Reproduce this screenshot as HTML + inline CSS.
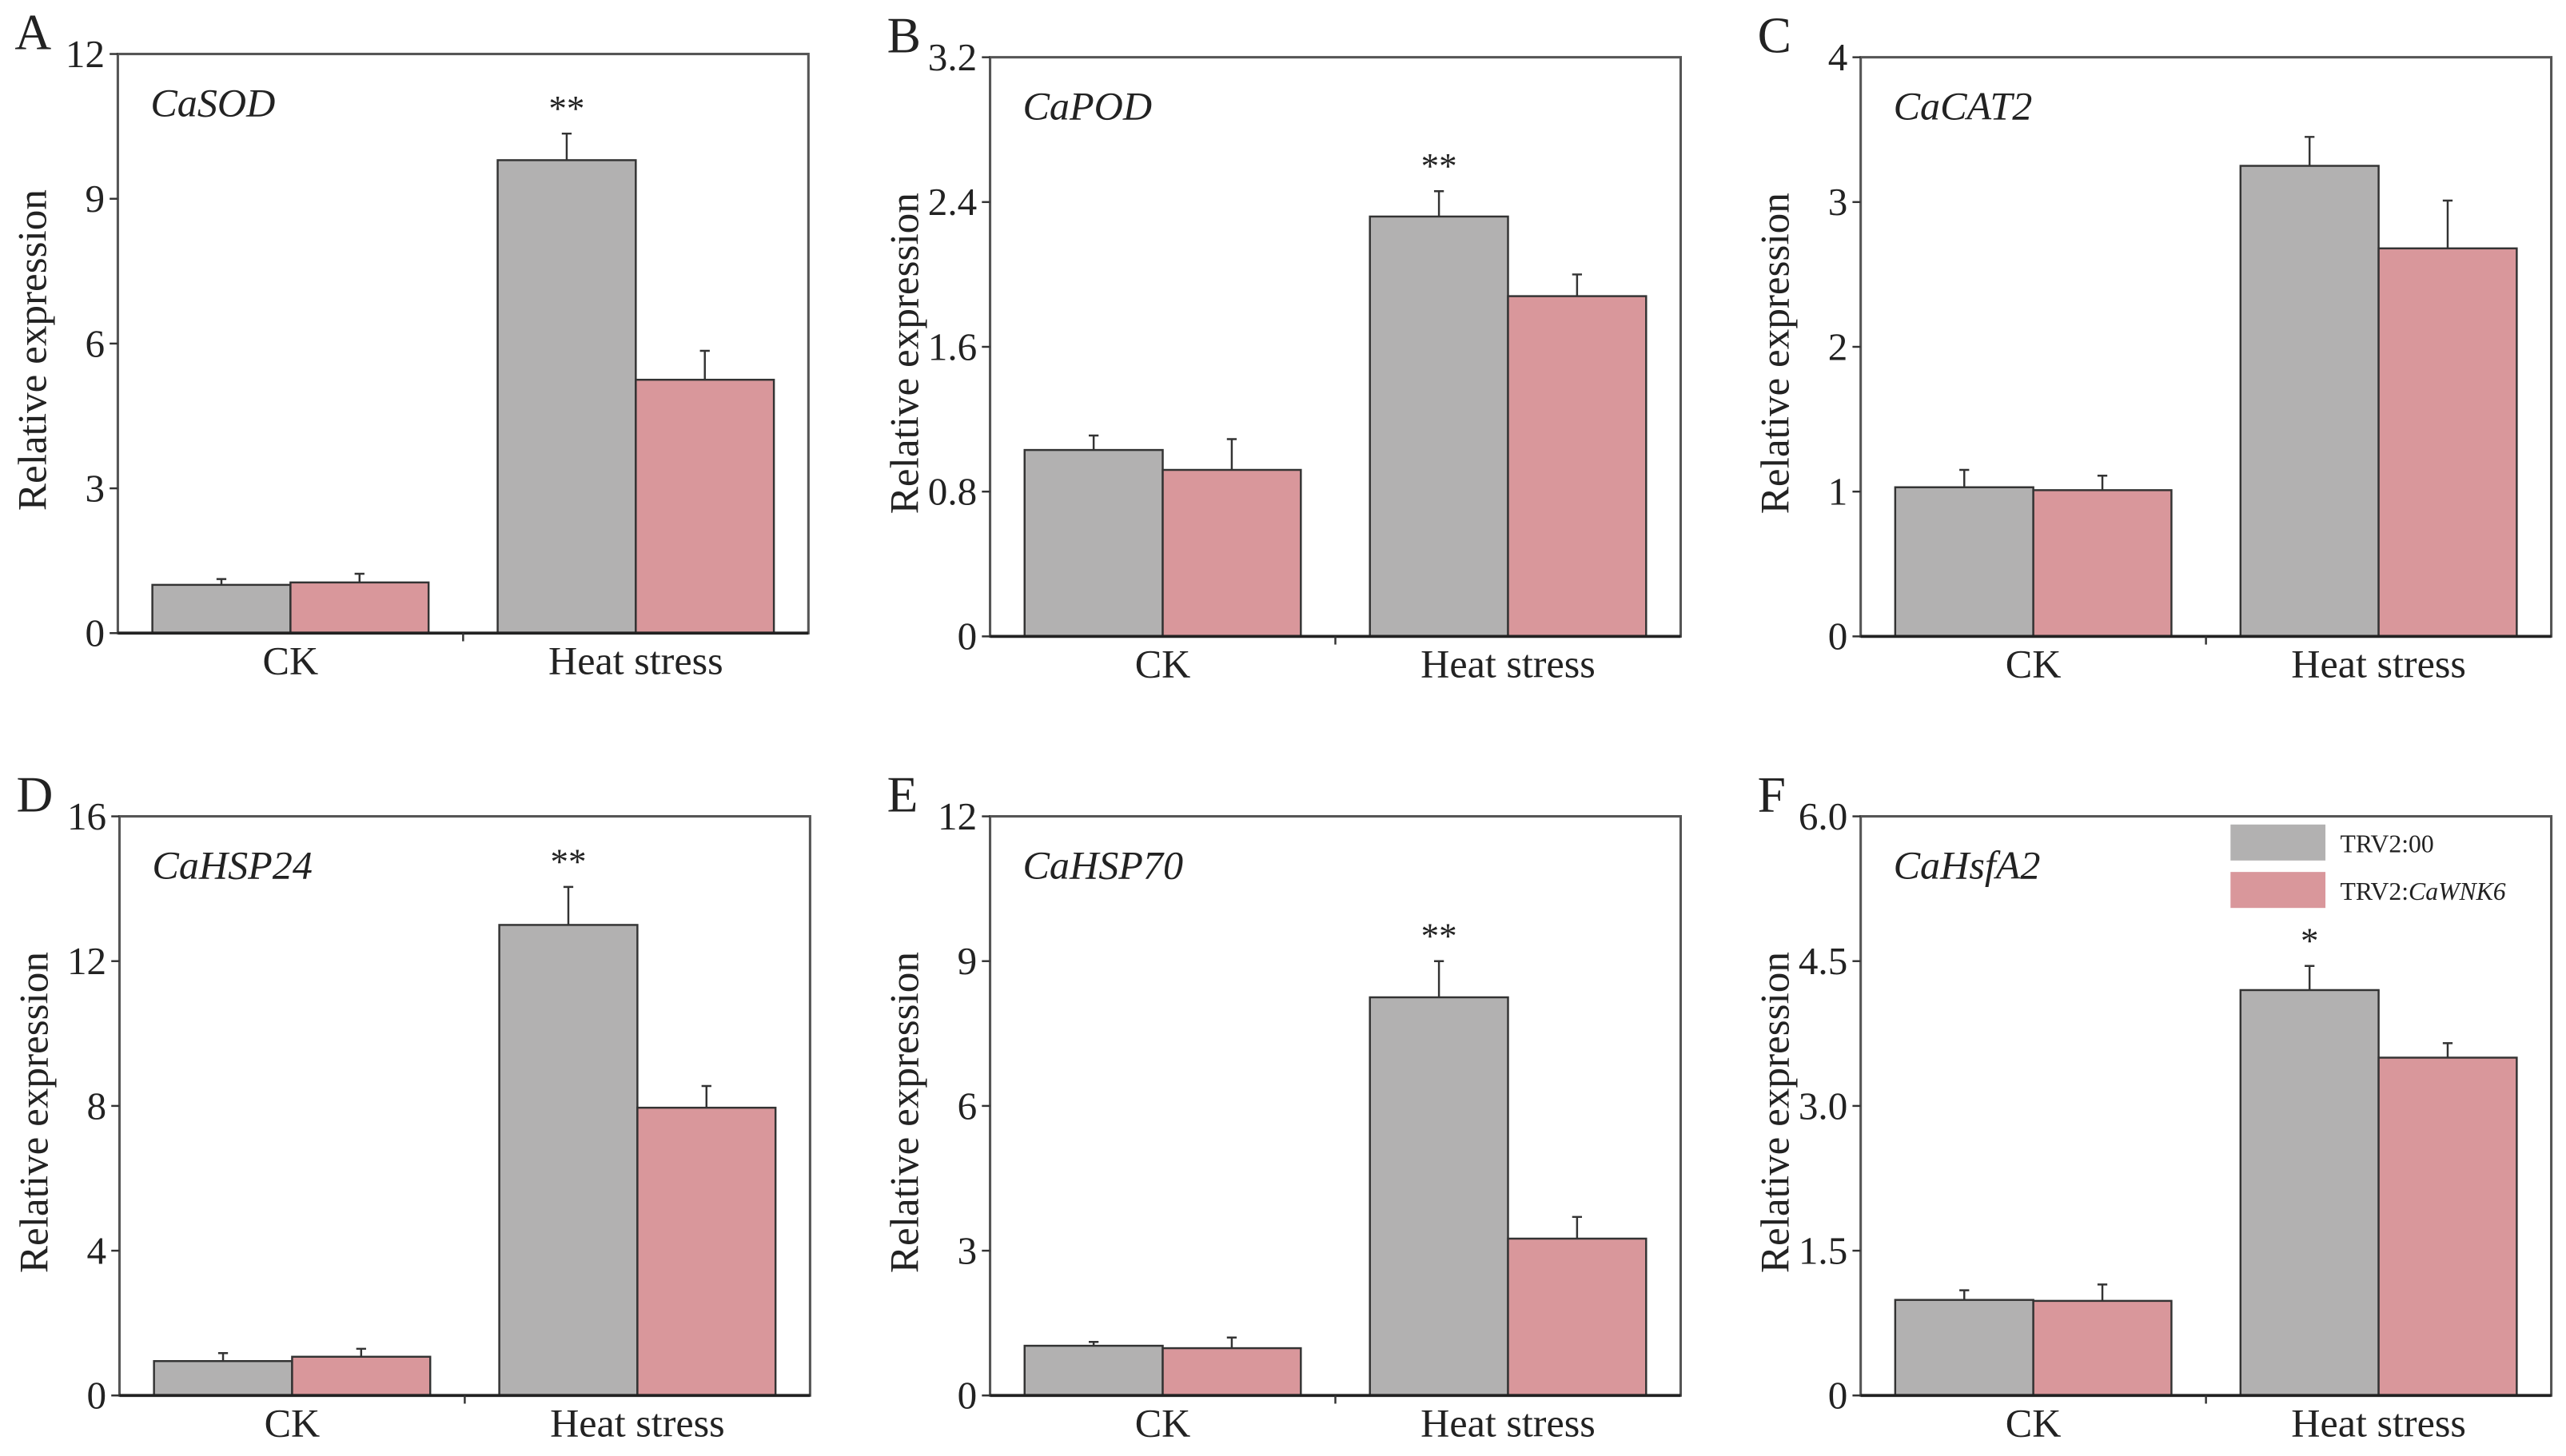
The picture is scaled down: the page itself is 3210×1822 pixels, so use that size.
<!DOCTYPE html>
<html><head><meta charset="utf-8"><style>
html,body{margin:0;padding:0;background:#fff}
svg{display:block}
text{font-family:"Liberation Serif",serif;fill:#222}
</style></head><body>
<svg id="fig" width="3210" height="1822" viewBox="0 0 1568 890" xmlns="http://www.w3.org/2000/svg"></svg>
<script>
const categories = ["CK", "Heat stress"];
const seriesNames = ["TRV2:00", "TRV2:CaWNK6"];
const panelLetters = ["A","B","C","D","E","F"];
const geneNames = ["CaSOD","CaPOD","CaCAT2","CaHSP24","CaHSP70","CaHsfA2"];
const yMaxes = [12, 3.2, 4, 16, 12, 6];
const tickLabels = [
  ["0","3","6","9","12"],
  ["0","0.8","1.6","2.4","3.2"],
  ["0","1","2","3","4"],
  ["0","4","8","12","16"],
  ["0","3","6","9","12"],
  ["0","1.5","3.0","4.5","6.0"]
];
const grayValues = [[1.0,9.8],[1.03,2.32],[1.03,3.25],[0.95,13.0],[1.03,8.25],[0.99,4.2]];
const grayErrors = [[0.12,0.55],[0.08,0.14],[0.12,0.2],[0.22,1.05],[0.08,0.75],[0.1,0.25]];
const pinkValues = [[1.05,5.25],[0.92,1.88],[1.01,2.68],[1.07,7.95],[0.98,3.25],[0.98,3.5]];
const pinkErrors = [[0.18,0.6],[0.17,0.12],[0.1,0.33],[0.22,0.6],[0.22,0.45],[0.17,0.15]];
const sigMarks = ["**","**","","**","**","*"];

const NS="http://www.w3.org/2000/svg";
const svg=document.getElementById('fig');
const boxes=[[72,33],[605,35],[1137,35],[73,499],[605,499],[1137,499]];
const W=422,H=354;
const colors=["#b2b1b1","#d9979b"];
function mk(tag,attrs,parent){const e=document.createElementNS(NS,tag);for(const k in attrs)e.setAttribute(k,attrs[k]);(parent||svg).appendChild(e);return e;}

panelLetters.forEach((L,p)=>{
  const [x0,y0]=boxes[p];
  const g=mk('g',{});
  
  
  const ys=v=>y0+H-v/yMaxes[p]*H;
  const xs=f=>x0+f*W;
  categories.forEach((c,ci)=>{
    const center=xs(0.25+0.5*ci);
    [[grayValues,grayErrors],[pinkValues,pinkErrors]].forEach(([vals,errs],si)=>{
      const v=vals[p][ci], e=errs[p][ci];
      const bx=center-0.2*W+si*0.2*W;
      const r=mk('rect',{x:bx,y:ys(v),width:0.2*W,height:ys(0)-ys(v),fill:colors[si],stroke:"#333","stroke-width":1.2},g);
      
      
      const mx=bx+0.1*W;
      const el=mk('path',{d:`M${mx},${ys(v)}V${ys(v+e)}M${mx-3},${ys(v+e)}H${mx+3}`,stroke:"#333","stroke-width":1.2,fill:"none"},g);
      
      
    });
    if(ci===1&&sigMarks[p]){
      const gv=grayValues[p][1]+grayErrors[p][1];
      const t=mk('text',{x:center-0.1*W,y:ys(gv)-8,"text-anchor":"middle","font-size":22},g);
      t.textContent=sigMarks[p];
      
      
    }
    const ct=mk('text',{x:center,y:y0+H+25,"text-anchor":"middle","font-size":24.5},g);
    ct.textContent=c;
    
    
  });
  const fr=mk('rect',{x:x0,y:y0,width:W,height:H,fill:"none",stroke:"#555","stroke-width":1.5},g);
  
  
  mk('path',{d:`M${x0},${y0+H}H${x0+W}`,stroke:"#222","stroke-width":1.8},g);
  mk('path',{d:`M${xs(0.5)},${y0+H}v5`,stroke:"#333","stroke-width":1.2},g);
  tickLabels[p].forEach((lab,i)=>{
    const v=i*yMaxes[p]/(tickLabels[p].length-1);
    mk('path',{d:`M${x0-5},${ys(v)}H${x0}`,stroke:"#333","stroke-width":1.2},g);
    const t=mk('text',{x:x0-8,y:ys(v)+8,"text-anchor":"end","font-size":24},g);
    t.textContent=lab;
    
    
  });
  const yt=mk('text',{transform:`translate(${x0-44},${y0+H/2+4}) rotate(-90)`,"text-anchor":"middle","font-size":25},g);
  yt.textContent="Relative expression";
  
  
  const gn=mk('text',{x:x0+20,y:y0+38,"font-size":24.5,"font-style":"italic"},g);
  gn.textContent=geneNames[p];
  
  
  const pl=mk('text',{x:x0-63,y:y0-3,"font-size":31},g);
  pl.textContent=L;
  
  
});
const lg=mk('g',{});


seriesNames.forEach((n,i)=>{
  const r=mk('rect',{x:1363,y:504+i*29,width:58,height:22,fill:colors[i]},lg);
  
  
  const t=mk('text',{x:1430,y:521+i*29,"font-size":15.5},lg);
  
  
  if(i===0){t.textContent=n;}else{
    t.textContent="TRV2:";
    const s=mk('tspan',{"font-style":"italic"},t);s.textContent="CaWNK6";
  }
});
</script>
</body></html>
